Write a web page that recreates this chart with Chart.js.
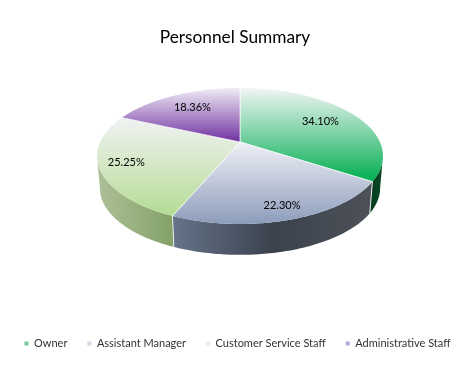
<!DOCTYPE html>
<html><head><meta charset="utf-8">
<style>html,body{margin:0;padding:0;background:#fff}canvas{display:block}</style>
<script src="https://cdn.jsdelivr.net/npm/chart.js@4"></script>
</head><body><canvas id="c" width="461" height="370"></canvas>
<script>
const categories = ['Owner','Assistant Manager','Customer Service Staff','Administrative Staff'];
const shares = [34.10,22.30,25.25,18.36];
const legendColors = ['#6fcb97','#d3d8e4','#e9edde','#b8a4d6'];
const faceTop = ['#f1f5f5','#f0f0f6','#f1f2f3','#efecf5'];
const faceBottom = ['#00ae50','#8c9dbb','#b4dc94','#7030a0'];
const wallStops = [
  ['#063d1e','#0a4a26'],
  ['#66748a','#3b424e','#4d5158'],
  ['#adc098','#84a268'],
  ['#7b9a5f','#7b9a5f']
];
const labelReach = [0.70,0.85,0.82,0.70];

// perspective of the tilted pie plate
const P = {cx:240, cy:142, sx:139.9, sy:65.1, k:0.2059, depth:32.5, shrink:0.98};
function project(a, r, low){
  const X = Math.cos(a)*r, Y = Math.sin(a)*r, w = 1 - P.k*Y;
  const s = low ? P.shrink : 1;
  return [P.cx + s*P.sx*X/w, P.cy + (low?P.depth:0) + s*P.sy*Y/w];
}
function arcPts(a0,a1,low){
  const n = Math.max(2,Math.ceil((a1-a0)*60)), pts=[];
  for(let i=0;i<=n;i++) pts.push(project(a0+(a1-a0)*i/n,1,low));
  return pts;
}
function trace(ctx,pts){pts.forEach((p,i)=>i?ctx.lineTo(p[0],p[1]):ctx.moveTo(p[0],p[1]));}

const plate = {
  id:'plate',
  afterLayout(chart){
    chart.titleBlock.left -= 2.5; chart.titleBlock.right -= 2.5;
  },
  beforeDatasetDraw(chart){
    const ctx = chart.ctx, arcs = chart.getDatasetMeta(0).data;
    const edge = Math.asin(P.k), frontA = edge, frontB = Math.PI-edge;
    // walls
    arcs.forEach((arc,i)=>{
      const lo = Math.max(arc.startAngle,frontA), hi = Math.min(arc.endAngle,frontB);
      if(hi<=lo) return;
      const top = arcPts(lo,hi,false), bot = arcPts(lo,hi,true);
      const xs = top.map(p=>p[0]);
      const g = ctx.createLinearGradient(Math.min(...xs),0,Math.max(...xs),0);
      const stops = wallStops[i];
      stops.forEach((c,j)=>g.addColorStop(stops.length===3&&j===1?0.5:j/(stops.length-1),c));
      ctx.fillStyle = g;
      ctx.beginPath(); trace(ctx,top.concat(bot.reverse())); ctx.closePath(); ctx.fill();
    });
    // wall seams
    ctx.strokeStyle='#e8ecec'; ctx.lineWidth=1;
    arcs.forEach(arc=>{
      const a=arc.endAngle, t=project(a,1,false), b=project(a,1,true);
      if(Math.sin(a)>0.2){ctx.beginPath();ctx.moveTo(t[0],t[1]);ctx.lineTo(b[0],b[1]);ctx.stroke();}
    });
    // faces
    arcs.forEach((arc,i)=>{
      const pts = arcPts(arc.startAngle,arc.endAngle,false);
      pts.push([P.cx,P.cy]);
      const ys = pts.map(p=>p[1]);
      const g = ctx.createLinearGradient(0,Math.min(...ys),0,Math.max(...ys));
      g.addColorStop(0,faceTop[i]); g.addColorStop(1,faceBottom[i]);
      ctx.fillStyle=g;
      ctx.beginPath(); trace(ctx,pts); ctx.closePath(); ctx.fill();
      ctx.strokeStyle='rgba(255,255,255,0.85)'; ctx.lineWidth=0.8;
      ctx.beginPath(); const s=project(arc.startAngle,1,false), e=project(arc.endAngle,1,false);
      ctx.moveTo(s[0],s[1]); ctx.lineTo(P.cx,P.cy); ctx.lineTo(e[0],e[1]); ctx.stroke();
    });
    // percent labels
    ctx.fillStyle='#000'; ctx.font='11px Lato'; ctx.textAlign='center'; ctx.textBaseline='middle';
    arcs.forEach((arc,i)=>{
      const p = project((arc.startAngle+arc.endAngle)/2,labelReach[i],false);
      ctx.fillText(shares[i].toFixed(2)+'%',p[0],p[1]);
    });
    return false;
  }
};

new Chart(document.getElementById('c'),{
  type:'pie',
  data:{labels:categories,datasets:[{data:shares,backgroundColor:legendColors,borderWidth:0}]},
  options:{
    responsive:false,animation:false,rotation:0,circumference:360,
    layout:{padding:{left:2,right:-12,top:0,bottom:11}},
    plugins:{
      tooltip:{enabled:false},
      title:{display:true,text:'Personnel Summary',color:'#000',
        font:{family:'Lato',size:17.3,weight:'normal'},padding:{top:27,bottom:10}},
      legend:{position:'bottom',labels:{color:'#333',font:{family:'Lato',size:11},
        usePointStyle:true,pointStyle:'rect',boxWidth:4,boxHeight:4,padding:20}}
    }
  },
  plugins:[plate]
});
</script></body></html>
